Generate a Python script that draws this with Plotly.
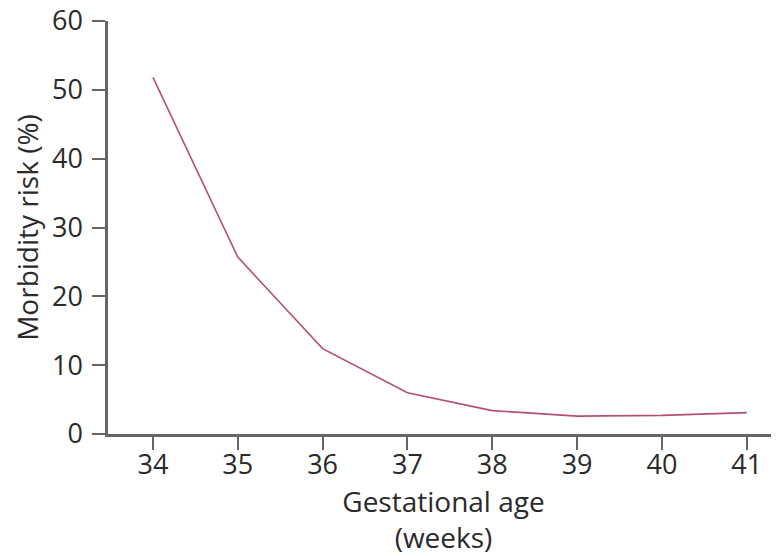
import plotly.graph_objs as go

weeks = [34, 35, 36, 37, 38, 39, 40, 41]
risk = [51.8, 25.7, 12.4, 6.0, 3.4, 2.6, 2.7, 3.1]
y_ticks = [0, 10, 20, 30, 40, 50, 60]

axis_grey = "#666666"
font_name = "Open Sans"

fig = go.Figure(
    data=[
        go.Scatter(
            x=weeks,
            y=risk,
            mode="lines",
            line=dict(color="#b5506e", width=1.6),
        )
    ]
)

# the page body has an 8px margin, so the figure is 8px smaller than the window
fig.update_layout(
    width=771,
    height=548,
    margin=dict(l=100, r=0, t=13, b=122),
    paper_bgcolor="white",
    plot_bgcolor="white",
    showlegend=False,
    font=dict(family=font_name, size=28, color="#2a2a2a"),
)

fig.update_xaxes(
    range=[33.47, 41.38],
    tickvals=weeks,
    tickfont=dict(size=27),
    ticklabelstandoff=-8,
    showline=True,
    linewidth=2.5,
    linecolor=axis_grey,
    ticks="outside",
    ticklen=13,
    tickwidth=1.5,
    tickcolor=axis_grey,
    showgrid=False,
    zeroline=False,
    automargin=False,
    title=dict(text="Gestational age<br>(weeks)", standoff=8, font=dict(size=28)),
)
fig.update_yaxes(
    range=[0, 60],
    tickvals=y_ticks,
    tickfont=dict(size=27),
    ticklabelstandoff=4,
    ticklabeloverflow="allow",
    showline=True,
    linewidth=2.5,
    linecolor=axis_grey,
    ticks="outside",
    ticklen=13,
    tickwidth=1.5,
    tickcolor=axis_grey,
    showgrid=False,
    zeroline=False,
    automargin=False,
    title=dict(text="Morbidity risk (%)", standoff=18, font=dict(size=28)),
)

fig.write_html("out.html")
